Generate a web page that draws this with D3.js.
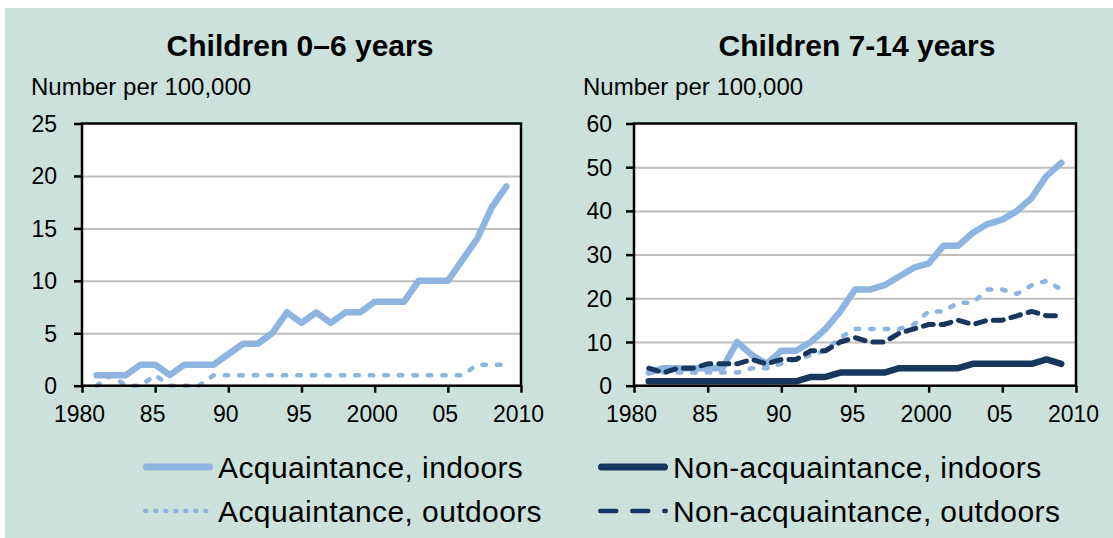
<!DOCTYPE html>
<html>
<head>
<meta charset="utf-8">
<script src="https://cdn.jsdelivr.net/npm/d3@7"></script>
<style>
  body { margin: 0; background: #fff; }
  svg { display: block; font-family: "Liberation Sans", Arial, sans-serif; }
</style>
</head>
<body>
<svg id="chart" width="1113" height="538"></svg>
<script>
// data
const years = [1981, 1982, 1983, 1984, 1985, 1986, 1987, 1988, 1989, 1990,
  1991, 1992, 1993, 1994, 1995, 1996, 1997, 1998, 1999, 2000,
  2001, 2002, 2003, 2004, 2005, 2006, 2007, 2008, 2009];

// children 0-6
const young_acqIndoors  = [1, 1, 1, 2, 2, 1, 2, 2, 2, 3, 4, 4, 5, 7, 6, 7, 6, 7, 7, 8, 8, 8, 10, 10, 10, 12, 14, 17, 19];
const young_acqOutdoors = [0, 1, 0, 0, 1, 0, 0, 0, 1, 1, 1, 1, 1, 1, 1, 1, 1, 1, 1, 1, 1, 1, 1, 1, 1, 1, 2, 2, 2];

// children 7-14
const older_acqIndoors     = [3, 4, 4, 4, 4, 4, 10, 7, 5, 8, 8, 10, 13, 17, 22, 22, 23, 25, 27, 28, 32, 32, 35, 37, 38, 40, 43, 48, 51];
const older_acqOutdoors    = [3, 3, 3, 3, 3, 3, 3, 4, 4, 5, 6, 7, 8, 11, 13, 13, 13, 13, 14, 17, 17, 19, 19, 22, 22, 21, 23, 24, 22];
const older_nonAcqIndoors  = [1, 1, 1, 1, 1, 1, 1, 1, 1, 1, 1, 2, 2, 3, 3, 3, 3, 4, 4, 4, 4, 4, 5, 5, 5, 5, 5, 6, 5];
const older_nonAcqOutdoors = [4, 3, 4, 4, 5, 5, 5, 6, 5, 6, 6, 8, 8, 10, 11, 10, 10, 12, 13, 14, 14, 15, 14, 15, 15, 16, 17, 16, 16];

const xTicks = [1980, 1985, 1990, 1995, 2000, 2005, 2010];
const xTickLabels = ["1980", "85", "90", "95", "2000", "05", "2010"];
const youngYTicks = [0, 5, 10, 15, 20, 25];
const olderYTicks = [0, 10, 20, 30, 40, 50, 60];

const LIGHT = "#8EB4E0", DARK = "#17375E";

const STYLES = {
  acqIn:  { color: LIGHT, width: 6.5, dash: null,     legendDash: null,    legendWidth: 7 },
  acqOut: { color: LIGHT, width: 4.5, dash: "3.5,11", legendDash: "1,9",   legendWidth: 4.5 },
  nonIn:  { color: DARK,  width: 6.5, dash: null,     legendDash: null,    legendWidth: 7 },
  nonOut: { color: DARK,  width: 5,   dash: "10,8",   legendDash: "16,16", legendWidth: 4.5 }
};

const svg = d3.select("#chart");

// panel background
svg.append("rect")
  .attr("x", 5).attr("y", 8)
  .attr("width", 1108).attr("height", 530)
  .attr("fill", "#CBE2DC");

const TOP = 123.5, BOTTOM = 385.7;

function drawPanel(p) {
  const x = d3.scaleLinear().domain([1980, 2010]).range([p.x0, p.x1]);
  const y = d3.scaleLinear().domain([0, p.yMax]).range([BOTTOM, TOP]);
  const g = svg.append("g");

  g.append("rect")
    .attr("x", p.x0).attr("y", TOP)
    .attr("width", p.x1 - p.x0).attr("height", BOTTOM - TOP)
    .attr("fill", "#fff");

  // gridlines
  g.append("g")
    .attr("transform", `translate(${p.x0},0)`)
    .call(d3.axisLeft(y).tickValues(p.yTicks.slice(1, -1)).tickSize(-(p.x1 - p.x0)).tickFormat(""))
    .call(a => a.select(".domain").remove())
    .call(a => a.selectAll("line").attr("stroke", "#BFBFBF").attr("stroke-width", 2));

  // series
  const line = d3.line().x((d, i) => x(years[i])).y(d => y(d));
  p.series.forEach(s => {
    const st = STYLES[s.key];
    g.append("path")
      .datum(s.values)
      .attr("d", line)
      .attr("fill", "none")
      .attr("stroke", st.color)
      .attr("stroke-width", st.width)
      .attr("stroke-linejoin", "round")
      .attr("stroke-linecap", "round")
      .attr("stroke-dasharray", st.dash);
  });

  // frame
  g.append("rect")
    .attr("x", p.x0).attr("y", TOP)
    .attr("width", p.x1 - p.x0).attr("height", BOTTOM - TOP)
    .attr("fill", "none").attr("stroke", "#000").attr("stroke-width", 2.5);

  // y axis
  g.append("g")
    .attr("transform", `translate(${p.x0},0)`)
    .call(d3.axisLeft(y).tickValues(p.yTicks).tickSize(8).tickPadding(p.tickPad))
    .call(a => a.select(".domain").remove())
    .call(a => a.selectAll("line").attr("stroke", "#000").attr("stroke-width", 2.5))
    .call(a => a.selectAll("text")
      .attr("font-size", 23).attr("fill", "#000")
      .attr("font-family", "Liberation Sans, Arial, sans-serif")
      .attr("dy", 8));

  // x axis
  g.append("g")
    .attr("transform", `translate(0,${BOTTOM})`)
    .call(d3.axisBottom(x).tickValues(xTicks).tickSize(7).tickFormat((d, i) => xTickLabels[i]))
    .call(a => a.select(".domain").remove())
    .call(a => a.selectAll("line").attr("stroke", "#000").attr("stroke-width", 2.5))
    .call(a => a.selectAll("text")
      .attr("font-size", 23).attr("fill", "#000")
      .attr("font-family", "Liberation Sans, Arial, sans-serif")
      .attr("x", -3)
      .attr("y", 36).attr("dy", null));

  g.append("text")
    .attr("x", p.titleX).attr("y", 56)
    .attr("text-anchor", "middle")
    .attr("font-size", 30).attr("font-weight", "bold")
    .text(p.title);

  g.append("text")
    .attr("x", p.labelX).attr("y", 95)
    .attr("font-size", 24)
    .text("Number per 100,000");
}

drawPanel({
  x0: 82, x1: 521, yMax: 25, yTicks: youngYTicks, tickPad: 17,
  title: "Children 0\u20136 years", titleX: 300, labelX: 31,
  series: [
    { key: "acqIn", values: young_acqIndoors },
    { key: "acqOut", values: young_acqOutdoors }
  ]
});

drawPanel({
  x0: 634, x1: 1076, yMax: 60, yTicks: olderYTicks, tickPad: 14,
  title: "Children 7-14 years", titleX: 857, labelX: 583,
  series: [
    { key: "acqIn", values: older_acqIndoors },
    { key: "acqOut", values: older_acqOutdoors },
    { key: "nonIn", values: older_nonAcqIndoors },
    { key: "nonOut", values: older_nonAcqOutdoors }
  ]
});

// legend
const legendItems = [
  { key: "acqIn",  label: "Acquaintance, indoors",      x: 143, y: 467 },
  { key: "acqOut", label: "Acquaintance, outdoors",     x: 143, y: 511 },
  { key: "nonIn",  label: "Non-acquaintance, indoors",  x: 598, y: 467 },
  { key: "nonOut", label: "Non-acquaintance, outdoors", x: 598, y: 511 }
];

const legend = svg.append("g");
legendItems.forEach(it => {
  const st = STYLES[it.key];
  legend.append("line")
    .attr("x1", it.x + st.legendWidth / 2).attr("x2", it.x + 70 - st.legendWidth / 2)
    .attr("y1", it.y).attr("y2", it.y)
    .attr("stroke", st.color)
    .attr("stroke-width", st.legendWidth)
    .attr("stroke-linecap", "round")
    .attr("stroke-dasharray", st.legendDash);
  legend.append("text")
    .attr("x", it.x + 75).attr("y", it.y + 11)
    .attr("font-size", 30)
    .attr("letter-spacing", 0.4)
    .text(it.label);
});
</script>
</body>
</html>
